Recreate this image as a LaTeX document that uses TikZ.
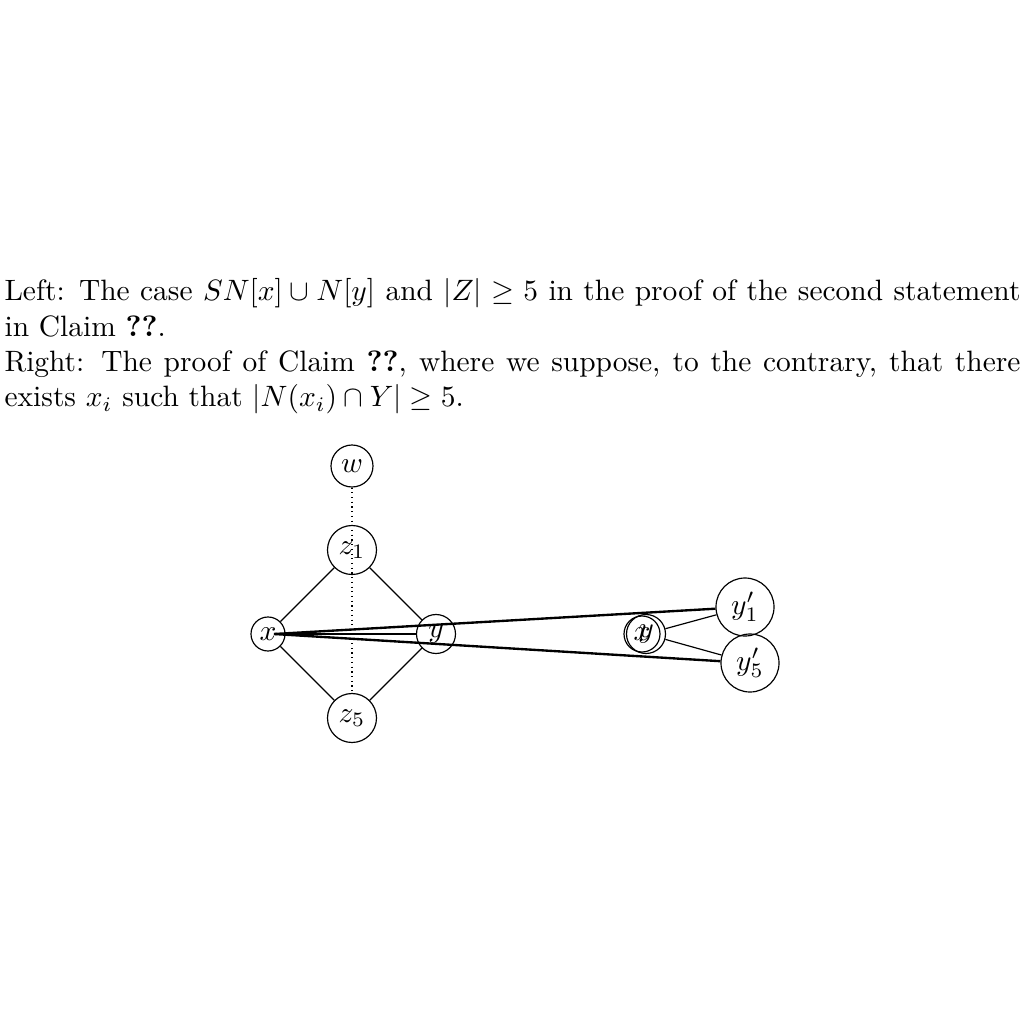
\documentclass[tikz,border=0pt]{standalone}
\usepackage{amsmath}
\begin{document}
\begin{tikzpicture}[x=0.3396pt,y=-0.3396pt,
  vtx/.style={circle,draw,inner sep=0pt,line width=0.4pt},
  edge/.style={line width=0.4pt},
  heavy/.style={line width=0.8pt},
  dotline/.style={line width=0.4pt,dash pattern=on 0.4pt off 1.2pt}]
\useasboundingbox (0,0) rectangle (1024,1024);
\node[anchor=north west,inner sep=0pt,text width=345pt,align=justify] (cap) at (4,278)
 {Left: The case $SN[x]\cup N[y]$ and $|Z|\geq 5$ in the proof of the second statement in Claim \textbf{??}.\\
  Right: The proof of Claim \textbf{??}, where we suppose, to the contrary, that there exists $x_i$ such that $|N(x_i)\cap Y|\geq 5$.};
% left diagram
\node[vtx,minimum size=42*0.3396pt] (w) at (352,466) {$w$};
\node[vtx,minimum size=49*0.3396pt] (z1) at (352,550) {$z_1$};
\node[vtx,minimum size=34*0.3396pt] (x) at (268,634) {$x$};
\node[vtx,minimum size=39*0.3396pt] (y) at (436,634) {$y$};
\node[vtx,minimum size=49*0.3396pt] (z5) at (352,718) {$z_5$};
% right diagram
\node[vtx,minimum size=36*0.3396pt] (x2) at (642,634) {$x$};
\node[vtx,minimum size=39*0.3396pt] (y2) at (646,634) {$y$};
\node[vtx,minimum size=58*0.3396pt] (yp1) at (745,607) {$y'_1$};
\node[vtx,minimum size=58*0.3396pt] (yp5) at (750,663) {$y'_5$};
% edges
\draw[edge] (x) -- (z1);
\draw[edge] (z1) -- (y);
\draw[edge] (x) -- (z5);
\draw[edge] (z5) -- (y);
\draw[dotline] (w) -- (z5);
\draw[edge] ([xshift=6*0.3396pt]x.center) -- (y);
\draw[heavy] ([xshift=6*0.3396pt]x.center) -- (yp1);
\draw[heavy] ([xshift=6*0.3396pt]x.center) -- (yp5);
\draw[edge] (y2) -- (yp1);
\draw[edge] (y2) -- (yp5);
\end{tikzpicture}
\end{document}
